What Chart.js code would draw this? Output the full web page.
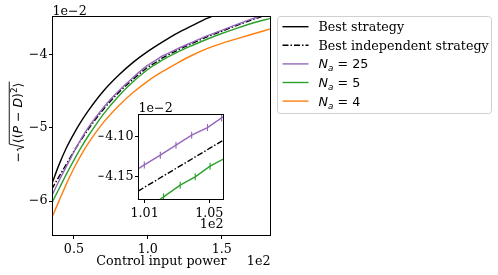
<!DOCTYPE html>
<html>
<head>
<meta charset="utf-8">
<script src="https://cdn.jsdelivr.net/npm/chart.js@4.4.0/dist/chart.umd.min.js"></script>
<style>
  html, body { margin: 0; padding: 0; background: #fff; }
  #wrap { position: relative; width: 498px; height: 275px; }
  #wrap canvas { position: absolute; left: 0; top: 0; }
</style>
</head>
<body>
<div id="wrap">
  <canvas id="mainChart" width="498" height="275"></canvas>
  <canvas id="insetChart" width="498" height="275"></canvas>
</div>
<script>
// x values are control input power in units of 1e2, y values in units of 1e-2

// Best strategy
const bestPower = [0.35, 0.40, 0.45, 0.50, 0.55, 0.60, 0.70, 0.80, 0.90, 1.00, 1.10, 1.20, 1.30, 1.40, 1.50];
const bestScore = [-5.77, -5.50, -5.27, -5.08, -4.91, -4.76, -4.50, -4.29, -4.11, -3.96, -3.83, -3.71, -3.61, -3.51, -3.43];

// Best independent strategy
const indepPower = [0.35, 0.40, 0.45, 0.50, 0.55, 0.60, 0.70, 0.80, 0.90, 1.00, 1.0062, 1.0587, 1.10, 1.20, 1.30, 1.40, 1.50, 1.60, 1.70, 1.83];
const indepScore = [-5.837, -5.664, -5.493, -5.32, -5.161, -5.013, -4.748, -4.527, -4.34, -4.176, -4.168, -4.1046, -4.05, -3.945, -3.851, -3.764, -3.686, -3.609, -3.534, -3.446];

// N_a = 25
const na25Power = [0.35, 0.40, 0.45, 0.50, 0.55, 0.60, 0.70, 0.80, 0.90, 1.00, 1.0098, 1.0197, 1.0294, 1.0391, 1.0489, 1.0576, 1.10, 1.20, 1.30, 1.40, 1.50, 1.60, 1.70, 1.83];
const na25Score = [-5.93, -5.72, -5.525, -5.33, -5.15, -4.99, -4.725, -4.505, -4.315, -4.148, -4.1355, -4.1234, -4.1109, -4.0984, -4.0888, -4.0768, -4.023, -3.926, -3.837, -3.75, -3.673, -3.596, -3.521, -3.433];

// N_a = 5
const na5Power = [0.35, 0.40, 0.45, 0.50, 0.55, 0.60, 0.70, 0.80, 0.90, 1.00, 1.0217, 1.032, 1.0413, 1.0505, 1.0598, 1.10, 1.20, 1.30, 1.40, 1.50, 1.60, 1.70, 1.83];
const na5Score = [-6.028, -5.829, -5.63, -5.441, -5.264, -5.103, -4.815, -4.574, -4.373, -4.207, -4.1755, -4.1609, -4.1505, -4.1371, -4.127, -4.077, -3.971, -3.88, -3.795, -3.717, -3.646, -3.58, -3.51];

// N_a = 4
const na4Power = [0.35, 0.40, 0.45, 0.50, 0.55, 0.60, 0.70, 0.80, 0.90, 1.00, 1.10, 1.20, 1.30, 1.40, 1.50, 1.60, 1.70, 1.83];
const na4Score = [-6.229, -5.994, -5.762, -5.553, -5.367, -5.203, -4.928, -4.707, -4.521, -4.365, -4.234, -4.119, -4.013, -3.922, -3.851, -3.79, -3.73, -3.654];

const naValues = [25, 5, 4];
const xTicks = [0.5, 1.0, 1.5];
const yTicks = [-6, -5, -4];
const insetXTicks = [1.01, 1.05];
const insetYTicks = [-4.15, -4.10];

const seriesLabels = ["Best strategy", "Best independent strategy"].concat(naValues.map(n => "N_a = " + n));
const seriesPower = [bestPower, indepPower, na25Power, na5Power, na4Power];
const seriesScore = [bestScore, indepScore, na25Score, na5Score, na4Score];

const colors = ["#000000", "#000000", "#9467bd", "#2ca02c", "#ff7f0e"];
const dashes = [[], [6, 2, 1.5, 2], [], [], []];
const insetMarkers = [false, false, true, true, false];

const serif = "'DejaVu Serif', serif";
const sans = "'DejaVu Sans', sans-serif";
const fs = 12.7;

function makeDatasets(inset) {
  return seriesPower.map((xs, i) => ({
    label: seriesLabels[i],
    data: xs.map((x, j) => ({ x: x, y: seriesScore[i][j] })),
    borderColor: colors[i],
    borderWidth: 1.4,
    borderDash: dashes[i],
    pointRadius: inset && insetMarkers[i] ? 3.5 : 0,
    pointStyle: "line",
    rotation: 90,
    pointBorderColor: colors[i],
    pointBorderWidth: 1.1,
    cubicInterpolationMode: inset ? "default" : "monotone",
    tension: 0,
    order: 5 - i,
    clip: 0,
  }));
}

function axis(min, max, tickVals, size, fmt, pad) {
  return {
    type: "linear",
    min: min,
    max: max,
    afterBuildTicks: (s) => { s.ticks = tickVals.map(v => ({ value: v })); },
    afterFit: (s) => { if (s.isHorizontal()) s.height = size; else s.width = size; },
    grid: { drawOnChartArea: false, tickLength: 3.5, tickColor: "#000", tickWidth: 1 },
    border: { display: false },
    ticks: { font: { family: serif, size: fs }, color: "#000", padding: pad, maxRotation: 0, autoSkip: false, callback: fmt },
  };
}

const minus = (v, d) => (v < 0 ? "\u2212" : "") + Math.abs(v).toFixed(d);

// italic / subscript helper for the N_a labels
function drawLabel(ctx, label, x, y) {
  ctx.textBaseline = "alphabetic";
  ctx.textAlign = "left";
  if (label.startsWith("N_a")) {
    ctx.font = "italic " + fs + "px " + sans;
    ctx.fillText("N", x, y);
    x += ctx.measureText("N").width;
    ctx.font = "italic " + (fs * 0.7) + "px " + sans;
    ctx.fillText("a", x, y + 3);
    x += ctx.measureText("a").width;
    ctx.font = fs + "px " + sans;
    ctx.fillText(label.slice(3), x, y);
  } else {
    ctx.font = fs + "px " + serif;
    ctx.fillText(label, x, y);
  }
}

function drawYLabel(ctx, bx, cy) {
  const s = 12.5;
  const up = s + "px " + sans, it = "italic " + s + "px " + sans, sup = (s * 0.7) + "px " + sans;
  const pre = [{ t: "\u2212", f: up }];
  const body = [
    { t: "\u27e8(", f: up }, { t: "P", f: it }, { t: " \u2212 ", f: up }, { t: "D", f: it },
    { t: ")", f: up }, { t: "2", f: sup, dy: -0.42 * s }, { t: "\u27e9", f: up },
  ];
  const w = (p) => { ctx.font = p.f; return ctx.measureText(p.t).width; };
  const preW = pre.reduce((a, p) => a + w(p), 0) + 1;
  const bodyW = body.reduce((a, p) => a + w(p), 0);
  const radW = 0.62 * s;
  const total = preW + radW + bodyW + 1;
  ctx.save();
  ctx.translate(bx, cy);
  ctx.rotate(-Math.PI / 2);
  ctx.fillStyle = "#000";
  ctx.textBaseline = "alphabetic";
  ctx.textAlign = "left";
  let x = -total / 2;
  pre.forEach(p => { ctx.font = p.f; ctx.fillText(p.t, x, 0); x += w(p); });
  x += 1;
  ctx.strokeStyle = "#000";
  ctx.lineWidth = 0.9;
  ctx.beginPath();
  ctx.moveTo(x, -0.32 * s);
  ctx.lineTo(x + 0.12 * s, -0.4 * s);
  ctx.lineTo(x + 0.3 * s, 0.15 * s);
  ctx.lineTo(x + 0.55 * s, -1.02 * s);
  ctx.lineTo(x + radW + bodyW + 1, -1.02 * s);
  ctx.stroke();
  x += radW;
  body.forEach(p => { ctx.font = p.f; ctx.fillText(p.t, x, p.dy || 0); x += w(p); });
  ctx.restore();
}

function frame(ctx, a) {
  ctx.strokeStyle = "#000";
  ctx.lineWidth = 1;
  ctx.strokeRect(a.left, a.top, a.right - a.left, a.bottom - a.top);
}

const mainDecor = {
  id: "mainDecor",
  afterDraw(chart) {
    const ctx = chart.ctx, a = chart.chartArea;
    ctx.save();
    frame(ctx, a);
    ctx.fillStyle = "#000";
    ctx.font = fs + "px " + serif;
    ctx.textBaseline = "alphabetic";
    ctx.textAlign = "left";
    ctx.fillText("1e\u22122", a.left, 15);
    ctx.textAlign = "right";
    ctx.fillText("1e2", a.right, 264.5);
    ctx.textAlign = "center";
    ctx.fillText("Control input power", (a.left + a.right) / 2, 264.5);
    drawYLabel(ctx, 22, (a.top + a.bottom) / 2 - 4);

    // legend
    const lx = 277.5, ly = 16.5, lw = 214, lh = 97;
    ctx.beginPath();
    ctx.roundRect(lx, ly, lw, lh, 3);
    ctx.fillStyle = "rgba(255,255,255,0.8)";
    ctx.fill();
    ctx.strokeStyle = "#d0d0d0";
    ctx.lineWidth = 1;
    ctx.stroke();
    chart.data.datasets.forEach((ds, i) => {
      const ry = 26.7 + i * 18.6;
      ctx.beginPath();
      ctx.setLineDash(ds.borderDash);
      ctx.strokeStyle = ds.borderColor;
      ctx.lineWidth = 1.4;
      ctx.moveTo(282.5, ry);
      ctx.lineTo(308.5, ry);
      ctx.stroke();
      ctx.setLineDash([]);
      ctx.fillStyle = "#000";
      drawLabel(ctx, ds.label, 318.5, ry + 4.4);
    });
    ctx.restore();
  },
};

const insetDecor = {
  id: "insetDecor",
  beforeDatasetsDraw(chart) {
    const ctx = chart.ctx, a = chart.chartArea;
    ctx.save();
    ctx.fillStyle = "#fff";
    ctx.fillRect(a.left, a.top, a.right - a.left, a.bottom - a.top);
    ctx.restore();
  },
  afterDraw(chart) {
    const ctx = chart.ctx, a = chart.chartArea;
    ctx.save();
    frame(ctx, a);
    ctx.fillStyle = "#000";
    ctx.font = fs + "px " + serif;
    ctx.textBaseline = "alphabetic";
    ctx.textAlign = "left";
    ctx.fillText("1e\u22122", a.left, 111.5);
    ctx.textAlign = "right";
    ctx.fillText("1e2", a.right, 228);
    ctx.restore();
  },
};

const common = {
  responsive: false,
  animation: false,
  events: [],
  plugins: { legend: { display: false }, tooltip: { enabled: false } },
};

new Chart(document.getElementById("mainChart"), {
  type: "line",
  data: { datasets: makeDatasets(false) },
  options: Object.assign({}, common, {
    layout: { padding: { left: 12.5, top: 16.5, right: 227.5, bottom: 9.5 } },
    scales: {
      x: axis(0.355, 1.83, xTicks, 30, (v) => v.toFixed(1), 3),
      y: axis(-6.469, -3.485, yTicks, 40, (v) => minus(v, 0), 1.5),
    },
  }),
  plugins: [mainDecor],
});

new Chart(document.getElementById("insetChart"), {
  type: "line",
  data: { datasets: makeDatasets(true) },
  options: Object.assign({}, common, {
    layout: { padding: { left: 98.5, top: 114.5, right: 274.5, bottom: 45.5 } },
    scales: {
      x: axis(1.0062, 1.0588, insetXTicks, 30, (v) => v.toFixed(2), 3),
      y: axis(-4.1788, -4.0725, insetYTicks, 40, (v) => minus(v, 2), 1.5),
    },
  }),
  plugins: [insetDecor],
});
</script>
</body>
</html>
